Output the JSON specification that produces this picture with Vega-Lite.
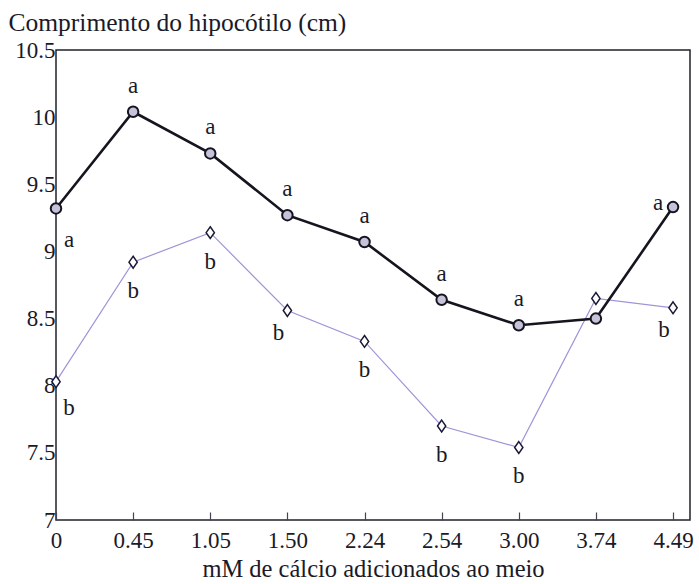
{
  "$schema": "https://vega.github.io/schema/vega-lite/v6.json",
  "width": 634,
  "height": 470,
  "autosize": "none",
  "padding": {"left": 56, "top": 50, "right": 9, "bottom": 64},
  "background": "white",
  "config": {
    "font": "Liberation Serif",
    "view": {"stroke": "#20202c", "strokeWidth": 1.5},
    "axis": {"domain": false, "grid": false, "labelColor": "#1a1a28", "titleColor": "#1a1a28", "labelFont": "Liberation Serif", "titleFont": "Liberation Serif", "titleFontWeight": "normal"}
  },
  "data": {
    "values": [
      {"calcio": "0", "serie": "A", "valor": 9.32, "letra": "a"},
      {"calcio": "0.45", "serie": "A", "valor": 10.04, "letra": "a"},
      {"calcio": "1.05", "serie": "A", "valor": 9.73, "letra": "a"},
      {"calcio": "1.50", "serie": "A", "valor": 9.27, "letra": "a"},
      {"calcio": "2.24", "serie": "A", "valor": 9.07, "letra": "a"},
      {"calcio": "2.54", "serie": "A", "valor": 8.64, "letra": "a"},
      {"calcio": "3.00", "serie": "A", "valor": 8.45, "letra": "a"},
      {"calcio": "3.74", "serie": "A", "valor": 8.5, "letra": ""},
      {"calcio": "4.49", "serie": "A", "valor": 9.33, "letra": "a"},
      {"calcio": "0", "serie": "B", "valor": 8.03, "letra": "b"},
      {"calcio": "0.45", "serie": "B", "valor": 8.92, "letra": "b"},
      {"calcio": "1.05", "serie": "B", "valor": 9.14, "letra": "b"},
      {"calcio": "1.50", "serie": "B", "valor": 8.56, "letra": "b"},
      {"calcio": "2.24", "serie": "B", "valor": 8.33, "letra": "b"},
      {"calcio": "2.54", "serie": "B", "valor": 7.7, "letra": "b"},
      {"calcio": "3.00", "serie": "B", "valor": 7.54, "letra": "b"},
      {"calcio": "3.74", "serie": "B", "valor": 8.65, "letra": ""},
      {"calcio": "4.49", "serie": "B", "valor": 8.58, "letra": "b"}
    ]
  },
  "encoding": {
    "x": {
      "field": "calcio",
      "type": "ordinal",
      "scale": {"type": "point", "domain": ["0", "0.45", "1.05", "1.50", "2.24", "2.54", "3.00", "3.74", "4.49"], "padding": 0.11, "align": 0},
      "axis": {"title": "mM de cálcio adicionados ao meio", "titleFontSize": 24.5, "titlePadding": 5, "labelFontSize": 23, "labelAngle": 0, "tickSize": -8, "tickColor": "#444455", "tickWidth": 1.2, "labelPadding": 17}
    },
    "y": {
      "field": "valor",
      "type": "quantitative",
      "scale": {"domain": [7, 10.5], "nice": false, "zero": false},
      "axis": {"values": [7, 7.5, 8, 8.5, 9, 9.5, 10, 10.5], "format": ".2~f", "ticks": false, "labelFontSize": 23, "labelPadding": 1, "title": "Comprimento do hipocótilo (cm)", "titleFontSize": 25.5, "titleAngle": 0, "titleAlign": "left", "titleBaseline": "alphabetic", "titleX": -48, "titleY": -20}
    }
  },
  "layer": [
    {
      "transform": [{"filter": "datum.serie == 'B'"}],
      "mark": {"type": "line", "color": "#a093d8", "strokeWidth": 1.2}
    },
    {
      "transform": [{"filter": "datum.serie == 'A'"}],
      "mark": {"type": "line", "color": "#15151f", "strokeWidth": 2.6}
    },
    {
      "transform": [{"filter": "datum.serie == 'B'"}],
      "mark": {"type": "point", "shape": "M0,-1L0.7,0L0,1L-0.7,0Z", "size": 140, "filled": true, "fill": "white", "stroke": "#1a1a38", "strokeWidth": 1.5, "opacity": 1}
    },
    {
      "transform": [{"filter": "datum.serie == 'A'"}],
      "mark": {"type": "point", "shape": "circle", "size": 110, "filled": true, "fill": "#c6c2da", "stroke": "#15151f", "strokeWidth": 2, "opacity": 1}
    },
    {
      "transform": [{"filter": "datum.serie == 'A' && datum.calcio != '0' && datum.calcio != '4.49'"}],
      "mark": {"type": "text", "dy": -26, "fontSize": 23, "color": "#1a1a28", "baseline": "middle"},
      "encoding": {"text": {"field": "letra"}}
    },
    {
      "transform": [{"filter": "datum.serie == 'A' && datum.calcio == '0'"}],
      "mark": {"type": "text", "dx": 13, "dy": 32, "fontSize": 23, "color": "#1a1a28", "baseline": "middle"},
      "encoding": {"text": {"field": "letra"}}
    },
    {
      "transform": [{"filter": "datum.serie == 'A' && datum.calcio == '4.49'"}],
      "mark": {"type": "text", "dx": -15, "dy": -4, "fontSize": 23, "color": "#1a1a28", "baseline": "middle"},
      "encoding": {"text": {"field": "letra"}}
    },
    {
      "transform": [{"filter": "datum.serie == 'B' && datum.calcio != '0' && datum.calcio != '4.49' && datum.calcio != '1.50'"}],
      "mark": {"type": "text", "dy": 29, "fontSize": 23, "color": "#1a1a28", "baseline": "middle"},
      "encoding": {"text": {"field": "letra"}}
    },
    {
      "transform": [{"filter": "datum.serie == 'B' && datum.calcio == '0'"}],
      "mark": {"type": "text", "dx": 13, "dy": 26, "fontSize": 23, "color": "#1a1a28", "baseline": "middle"},
      "encoding": {"text": {"field": "letra"}}
    },
    {
      "transform": [{"filter": "datum.serie == 'B' && (datum.calcio == '4.49' || datum.calcio == '1.50')"}],
      "mark": {"type": "text", "dx": -9, "dy": 22, "fontSize": 23, "color": "#1a1a28", "baseline": "middle"},
      "encoding": {"text": {"field": "letra"}}
    }
  ]
}
